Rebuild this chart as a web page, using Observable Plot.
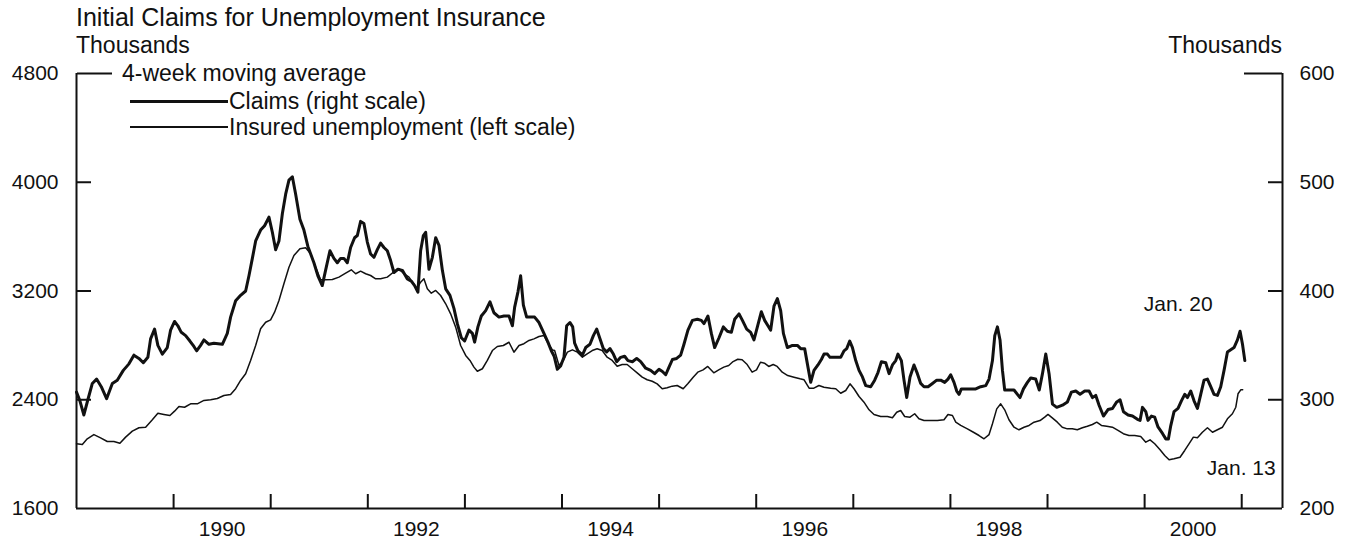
<!DOCTYPE html>
<html>
<head>
<meta charset="utf-8">
<script src="https://cdn.jsdelivr.net/npm/d3@7"></script>
<script src="https://cdn.jsdelivr.net/npm/@observablehq/plot@0.6"></script>
<style>
  html, body { margin: 0; padding: 0; background: #fff; }
  #wrap { position: relative; width: 1358px; height: 548px; overflow: hidden; font-family: "Liberation Sans", Arial, Helvetica, sans-serif; color: #111; }
  #wrap .t { position: absolute; line-height: 1; white-space: nowrap; font-size: 23px; }
  #wrap .ln { position: absolute; background: #111; }
  #chart { position: absolute; left: 0; top: 0; }
</style>
</head>
<body>
<div id="wrap">
  <div id="chart"></div>
  <div class="t" style="left:76px; top:5px; font-size:25px;">Initial Claims for Unemployment Insurance</div>
  <div class="t" style="left:76px; top:34px;">Thousands</div>
  <div class="t" style="right:76px; top:34px;">Thousands</div>
  <div class="t" style="left:122px; top:62px;">4-week moving average</div>
  <div class="ln" style="left:130px; top:99.5px; width:98px; height:3px;"></div>
  <div class="t" style="left:229px; top:90px;">Claims (right scale)</div>
  <div class="ln" style="left:130px; top:126.3px; width:98px; height:1.5px;"></div>
  <div class="t" style="left:229px; top:116px;">Insured unemployment (left scale)</div>
</div>
<script>
// ---- data ----
// Claims, 4-week moving average, thousands (right scale)
const claimsT = [1989.000,1989.035,1989.076,1989.117,1989.163,1989.207,1989.255,1989.310,1989.369,1989.420,1989.482,1989.540,1989.591,1989.643,1989.688,1989.735,1989.763,1989.804,1989.838,1989.884,1989.935,1989.969,1990.010,1990.044,1990.079,1990.124,1990.168,1990.209,1990.237,1990.278,1990.312,1990.364,1990.415,1990.502,1990.553,1990.587,1990.639,1990.690,1990.742,1990.776,1990.811,1990.845,1990.896,1990.937,1990.982,1991.017,1991.051,1991.085,1991.120,1991.154,1991.188,1991.223,1991.257,1991.301,1991.342,1991.383,1991.445,1991.486,1991.531,1991.565,1991.610,1991.651,1991.686,1991.720,1991.754,1991.789,1991.823,1991.864,1991.892,1991.926,1991.960,1991.995,1992.029,1992.063,1992.098,1992.132,1992.166,1992.201,1992.235,1992.269,1992.310,1992.356,1992.407,1992.448,1992.482,1992.516,1992.544,1992.572,1992.596,1992.630,1992.665,1992.699,1992.733,1992.768,1992.802,1992.846,1992.887,1992.922,1992.963,1992.997,1993.042,1993.077,1993.100,1993.134,1993.169,1993.214,1993.258,1993.299,1993.351,1993.402,1993.454,1993.489,1993.512,1993.546,1993.574,1993.602,1993.636,1993.677,1993.718,1993.763,1993.814,1993.855,1993.890,1993.919,1993.952,1993.986,1994.020,1994.048,1994.082,1994.110,1994.130,1994.164,1994.210,1994.244,1994.288,1994.323,1994.357,1994.391,1994.426,1994.460,1994.494,1994.529,1994.563,1994.604,1994.645,1994.679,1994.725,1994.769,1994.810,1994.862,1994.913,1994.954,1994.999,1995.034,1995.068,1995.102,1995.137,1995.181,1995.222,1995.256,1995.297,1995.343,1995.394,1995.435,1995.462,1995.503,1995.538,1995.572,1995.617,1995.662,1995.703,1995.744,1995.778,1995.823,1995.858,1995.902,1995.943,1995.977,1996.012,1996.053,1996.087,1996.121,1996.149,1996.183,1996.218,1996.252,1996.280,1996.321,1996.373,1996.424,1996.458,1996.499,1996.527,1996.561,1996.595,1996.636,1996.671,1996.698,1996.733,1996.760,1996.801,1996.836,1996.870,1996.904,1996.932,1996.963,1996.991,1997.025,1997.059,1997.094,1997.128,1997.179,1997.220,1997.254,1997.289,1997.334,1997.368,1997.403,1997.437,1997.460,1997.495,1997.522,1997.550,1997.584,1997.625,1997.660,1997.694,1997.728,1997.770,1997.815,1997.859,1997.900,1997.941,1997.975,1998.003,1998.037,1998.065,1998.089,1998.113,1998.158,1998.209,1998.261,1998.312,1998.364,1998.398,1998.433,1998.457,1998.484,1998.511,1998.536,1998.559,1998.604,1998.655,1998.690,1998.717,1998.752,1998.793,1998.827,1998.878,1998.915,1998.948,1998.982,1999.016,1999.051,1999.095,1999.154,1999.205,1999.246,1999.291,1999.335,1999.383,1999.428,1999.463,1999.497,1999.531,1999.576,1999.623,1999.669,1999.713,1999.747,1999.782,1999.830,1999.875,1999.926,1999.953,1999.978,2000.012,2000.035,2000.070,2000.104,2000.138,2000.184,2000.218,2000.245,2000.269,2000.303,2000.344,2000.379,2000.413,2000.441,2000.475,2000.509,2000.544,2000.578,2000.612,2000.647,2000.681,2000.715,2000.750,2000.784,2000.818,2000.853,2000.887,2000.921,2000.956,2000.983,2001.008,2001.032];
const claimsV = [307,299,286,300,315,319,312,301,315,318,327,333,341,338,334,339,356,365,350,342,348,364,372,368,362,359,354,349,345,350,355,351,352,351,361,376,391,396,400,414,430,446,456,460,468,454,438,446,471,489,502,505,489,466,456,441,426,414,405,419,437,430,426,430,430,426,440,449,451,464,462,445,434,431,438,444,440,437,428,417,420,419,411,409,405,399,437,451,454,420,431,449,442,419,402,396,384,370,357,354,364,361,353,367,377,382,390,380,376,377,377,368,385,399,414,387,376,376,376,371,361,353,345,340,328,331,339,368,371,367,352,345,341,348,351,359,365,356,347,344,347,342,335,339,340,336,335,338,335,329,327,324,328,326,323,330,337,338,341,351,364,373,374,373,370,377,361,348,357,367,363,362,374,379,373,365,362,355,367,381,373,368,364,386,393,382,361,348,350,350,347,347,333,316,327,332,337,342,342,339,339,339,339,345,347,354,348,336,327,321,313,312,318,325,335,334,324,332,336,342,336,318,302,321,332,324,315,312,312,315,318,318,316,319,323,316,308,305,310,310,310,310,312,313,319,336,359,367,355,327,309,309,309,305,302,310,316,320,319,309,324,342,324,296,293,295,298,307,308,305,308,308,302,304,295,285,291,292,298,300,289,286,285,282,281,293,289,281,285,284,275,269,264,264,276,289,292,299,305,302,308,299,292,305,318,319,312,305,304,312,327,344,346,348,355,363,351,336];

// Insured unemployment, 4-week moving average, thousands (left scale)
const insuredT = [1989.000,1989.060,1989.111,1989.179,1989.248,1989.317,1989.385,1989.447,1989.506,1989.575,1989.643,1989.712,1989.781,1989.838,1989.900,1989.962,1990.010,1990.055,1990.113,1990.175,1990.244,1990.312,1990.381,1990.450,1990.518,1990.587,1990.639,1990.690,1990.742,1990.793,1990.845,1990.896,1990.948,1990.999,1991.040,1991.085,1991.136,1991.188,1991.239,1991.301,1991.360,1991.411,1991.463,1991.514,1991.566,1991.635,1991.703,1991.772,1991.830,1991.875,1991.926,1991.978,1992.029,1992.081,1992.132,1992.201,1992.263,1992.321,1992.372,1992.424,1992.469,1992.503,1992.544,1992.578,1992.613,1992.654,1992.699,1992.750,1992.802,1992.853,1992.905,1992.956,1993.008,1993.052,1993.093,1993.128,1993.180,1993.231,1993.283,1993.334,1993.396,1993.454,1993.505,1993.557,1993.608,1993.660,1993.711,1993.763,1993.814,1993.855,1993.901,1993.924,1993.969,1994.014,1994.055,1994.107,1994.158,1994.210,1994.259,1994.311,1994.362,1994.414,1994.465,1994.517,1994.568,1994.620,1994.671,1994.723,1994.774,1994.826,1994.877,1994.929,1994.980,1995.032,1995.083,1995.135,1995.186,1995.248,1995.295,1995.351,1995.398,1995.453,1995.501,1995.563,1995.614,1995.666,1995.717,1995.762,1995.810,1995.855,1995.907,1995.958,1996.003,1996.044,1996.085,1996.129,1996.175,1996.216,1996.268,1996.325,1996.389,1996.451,1996.493,1996.545,1996.594,1996.646,1996.698,1996.767,1996.819,1996.870,1996.922,1996.966,1997.007,1997.059,1997.110,1997.162,1997.213,1997.282,1997.351,1997.403,1997.447,1997.488,1997.529,1997.584,1997.632,1997.676,1997.728,1997.797,1997.866,1997.934,1997.975,1998.021,1998.055,1998.106,1998.175,1998.237,1998.295,1998.346,1998.398,1998.433,1998.477,1998.518,1998.559,1998.603,1998.655,1998.706,1998.758,1998.810,1998.861,1998.923,1998.971,1999.005,1999.049,1999.101,1999.152,1999.204,1999.255,1999.307,1999.359,1999.410,1999.462,1999.507,1999.555,1999.610,1999.668,1999.726,1999.781,1999.839,1999.898,1999.960,2000.012,2000.056,2000.104,2000.159,2000.207,2000.252,2000.303,2000.365,2000.413,2000.457,2000.502,2000.544,2000.595,2000.647,2000.699,2000.750,2000.802,2000.853,2000.904,2000.939,2000.962,2000.990,2001.010];
const insuredV = [2076,2071,2113,2144,2120,2093,2093,2080,2125,2169,2194,2198,2253,2301,2292,2284,2316,2350,2345,2370,2370,2395,2400,2409,2431,2439,2481,2542,2591,2689,2799,2922,2970,2988,3044,3130,3253,3375,3461,3510,3518,3474,3375,3282,3282,3285,3302,3331,3356,3327,3346,3327,3314,3290,3290,3302,3338,3363,3327,3302,3257,3216,3265,3290,3216,3184,3204,3167,3106,3032,2934,2799,2726,2689,2640,2610,2628,2689,2762,2792,2799,2823,2750,2799,2812,2836,2848,2865,2873,2816,2767,2762,2652,2689,2750,2767,2750,2713,2738,2762,2775,2762,2713,2689,2647,2659,2659,2628,2598,2566,2547,2536,2517,2481,2488,2500,2505,2481,2517,2566,2603,2620,2645,2598,2620,2640,2652,2681,2698,2694,2659,2603,2620,2676,2669,2645,2659,2645,2603,2578,2566,2554,2547,2485,2485,2505,2492,2485,2481,2448,2468,2517,2481,2424,2382,2326,2292,2277,2277,2267,2308,2321,2277,2272,2297,2260,2247,2247,2247,2253,2292,2284,2235,2211,2186,2161,2137,2113,2144,2223,2333,2370,2326,2253,2198,2179,2198,2211,2235,2247,2272,2292,2267,2235,2198,2186,2186,2179,2194,2205,2218,2235,2211,2205,2198,2174,2150,2137,2137,2130,2088,2105,2076,2032,1990,1958,1966,1977,2027,2076,2125,2120,2161,2194,2161,2179,2198,2260,2297,2345,2444,2473,2473];

// axes
const leftDomain = [1600, 4800];
const rightDomain = [200, 600];
const xDomain = [1989, 2001.42];
const leftTicks = [1600, 2400, 3200, 4000, 4800];
const rightTicks = [200, 300, 400, 500, 600];
const yearTicks = [1990, 1991, 1992, 1993, 1994, 1995, 1996, 1997, 1998, 1999, 2000, 2001];
const yearLabels = [1990, 1992, 1994, 1996, 1998, 2000];

// annotations (x in years, y in left-scale units)
const notes = [
  {label: "Jan. 20", t: 2000.70, y: 3100},
  {label: "Jan. 13", t: 2001.35, y: 1895}
];

// ---- build ----
const toLeft = d3.scaleLinear().domain(rightDomain).range(leftDomain);
const claims = claimsT.map((t, i) => ({t, v: claimsV[i]}));
const insured = insuredT.map((t, i) => ({t, v: insuredV[i]}));
const ink = "#111";
const fontSize = 21;

const chart = Plot.plot({
  width: 1358,
  height: 548,
  marginLeft: 76,
  marginRight: 76,
  marginTop: 73,
  marginBottom: 40,
  style: {fontFamily: '"Liberation Sans", Arial, Helvetica, sans-serif', fontSize: fontSize + "px", color: ink, background: "transparent"},
  x: {domain: xDomain, axis: null},
  y: {domain: leftDomain, axis: null},
  marks: [
    // frame: left, right, bottom
    Plot.ruleX([xDomain[0], xDomain[1]], {stroke: ink, strokeWidth: 2}),
    Plot.ruleY([leftDomain[0]], {stroke: ink, strokeWidth: 2}),
    // left tick labels
    Plot.axisY(leftTicks, {anchor: "left", tickSize: 0, tickPadding: 18, label: null, fontSize, fill: ink,
      tickFormat: d => String(d)}),
    // right tick labels
    Plot.axisY(rightTicks.map(toLeft), {anchor: "right", tickSize: 0, tickPadding: 17, label: null, fontSize, fill: ink,
      tickFormat: d => String(Math.round(toLeft.invert(d)))}),
    // inward ticks, left
    Plot.axisY(leftTicks.slice(1, 4), {anchor: "right", frameAnchor: "left", tickSize: 14, strokeWidth: 2, fill: "none", stroke: ink, label: null}),
    Plot.axisY(leftTicks.slice(4), {anchor: "right", frameAnchor: "left", tickSize: 35, strokeWidth: 2, fill: "none", stroke: ink, label: null}),
    // inward ticks, right
    Plot.axisY(rightTicks.slice(1, 4).map(toLeft), {anchor: "left", frameAnchor: "right", tickSize: 14, strokeWidth: 2, fill: "none", stroke: ink, label: null}),
    Plot.axisY(rightTicks.slice(4).map(toLeft), {anchor: "left", frameAnchor: "right", tickSize: 38, strokeWidth: 2, fill: "none", stroke: ink, label: null}),
    // inward year ticks
    Plot.axisX(yearTicks, {anchor: "top", frameAnchor: "bottom", tickSize: 15, strokeWidth: 2, fill: "none", stroke: ink, label: null}),
    // year labels, centred in the year
    Plot.axisX(yearLabels.map(y => y + 0.5), {anchor: "bottom", tickSize: 0, tickPadding: 13, label: null, fontSize, fill: ink,
      tickFormat: d => String(Math.floor(d))}),
    // series
    Plot.line(insured, {x: "t", y: "v", stroke: ink, strokeWidth: 1.5, strokeLinejoin: "round"}),
    Plot.line(claims, {x: "t", y: d => toLeft(d.v), stroke: ink, strokeWidth: 3, strokeLinejoin: "round"}),
    // annotations
    Plot.text(notes, {x: "t", y: "y", text: "label", textAnchor: "end", fontSize, fill: ink})
  ]
});
document.getElementById("chart").appendChild(chart);
</script>
</body>
</html>
